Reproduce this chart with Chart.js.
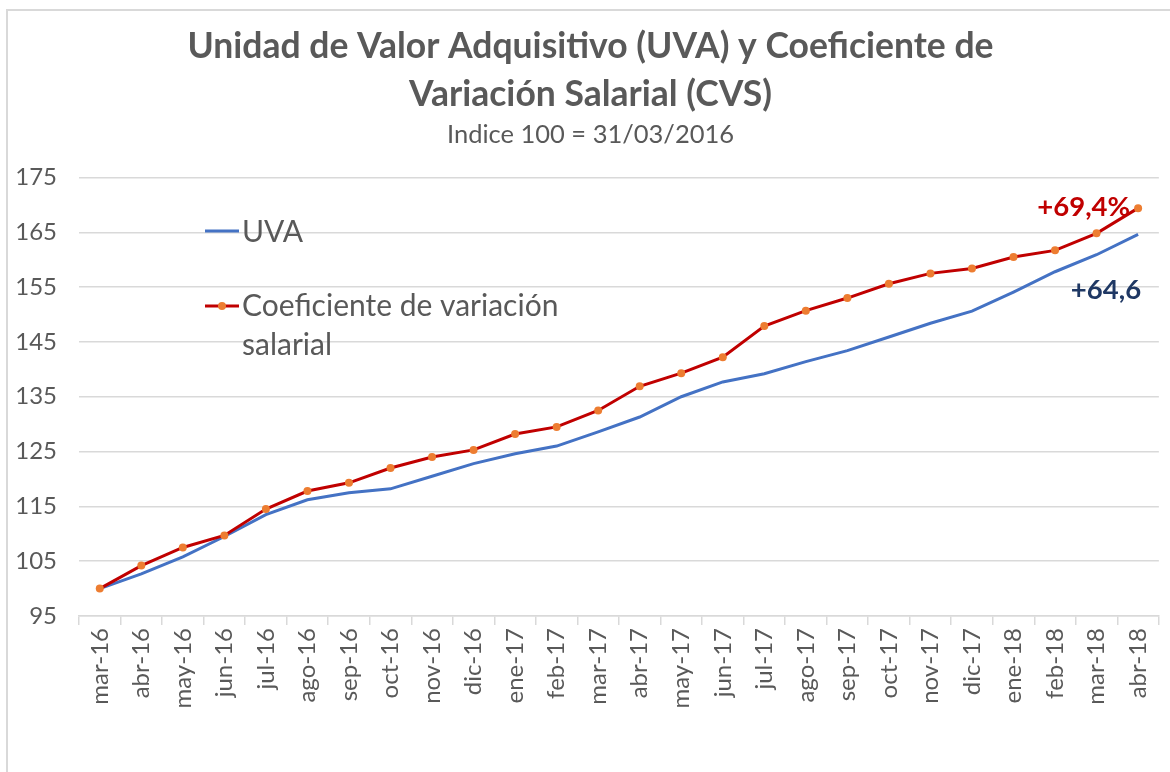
<!DOCTYPE html>
<html>
<head>
<meta charset="utf-8">
<script src="https://cdn.jsdelivr.net/npm/chart.js@4/dist/chart.umd.min.js"></script>
<style>
  html, body { margin: 0; padding: 0; background: #ffffff; }
  #wrap { position: relative; width: 1170px; height: 772px; }
</style>
</head>
<body>
<div id="wrap"><canvas id="c" width="1170" height="772"></canvas></div>
<script>
const categories = ["mar-16","abr-16","may-16","jun-16","jul-16","ago-16","sep-16","oct-16","nov-16","dic-16",
  "ene-17","feb-17","mar-17","abr-17","may-17","jun-17","jul-17","ago-17","sep-17","oct-17","nov-17","dic-17",
  "ene-18","feb-18","mar-18","abr-18"];
const uvaValues = [100, 102.7, 105.8, 109.5, 113.5, 116.2, 117.5, 118.2, 120.5, 122.8, 124.6, 126.0, 128.6,
  131.3, 135.0, 137.7, 139.2, 141.4, 143.4, 145.9, 148.4, 150.6, 154.1, 157.8, 160.9, 164.6];
const cvsValues = [100, 104.2, 107.5, 109.7, 114.5, 117.8, 119.3, 122.0, 124.0, 125.3, 128.2, 129.5, 132.5,
  136.9, 139.3, 142.2, 147.9, 150.7, 153.0, 155.6, 157.5, 158.4, 160.5, 161.7, 164.8, 169.4];
const yTicks = [95, 105, 115, 125, 135, 145, 155, 165, 175];
const titleLines = ["Unidad de Valor Adquisitivo (UVA) y Coeficiente de", "Variación Salarial (CVS)"];
const subtitleText = "Indice 100 = 31/03/2016";
const seriesNames = ["UVA", "Coeficiente de variación", "salarial"];
const endLabels = ["+64,6", "+69,4%"];

const FONT = "Lato, 'Open Sans', sans-serif";
const GRAY = "#595959";
const BLUE = "#4472C4";
const RED = "#C00000";
const ORANGE = "#ED7D31";
const NAVY = "#1F3864";

const overlayPlugin = {
  id: 'overlay',
  beforeDraw(chart) {
    const ctx = chart.ctx;
    ctx.save();
    ctx.fillStyle = '#ffffff';
    ctx.fillRect(0, 0, chart.width, chart.height);
    ctx.strokeStyle = '#d9d9d9';
    ctx.lineWidth = 2;
    ctx.beginPath();
    ctx.moveTo(7, chart.height + 5);
    ctx.lineTo(7, 10);
    ctx.lineTo(chart.width + 5, 10);
    ctx.stroke();
    ctx.restore();
  },
  afterDraw(chart) {
    const ctx = chart.ctx;
    const ca = chart.chartArea;
    ctx.save();
    // legend
    const lx0 = ca.left + 126, lx1 = ca.left + 160, tx = ca.left + 163;
    const y1 = 231, y2 = 306, y3 = 345;
    ctx.lineWidth = 3;
    ctx.strokeStyle = BLUE;
    ctx.beginPath(); ctx.moveTo(lx0, y1); ctx.lineTo(lx1, y1); ctx.stroke();
    ctx.strokeStyle = RED;
    ctx.beginPath(); ctx.moveTo(lx0, y2); ctx.lineTo(lx1, y2); ctx.stroke();
    ctx.fillStyle = ORANGE;
    ctx.beginPath(); ctx.arc((lx0 + lx1) / 2, y2, 4, 0, Math.PI * 2); ctx.fill();
    ctx.fillStyle = GRAY;
    ctx.font = "30px " + FONT;
    ctx.textAlign = 'left';
    ctx.textBaseline = 'middle';
    ctx.fillText(seriesNames[0], tx, y1 + 1);
    ctx.fillText(seriesNames[1], tx, y2);
    ctx.fillText(seriesNames[2], tx, y3);
    // end labels
    const mU = chart.getDatasetMeta(0).data;
    const mC = chart.getDatasetMeta(1).data;
    const pU = mU[mU.length - 1], pC = mC[mC.length - 1];
    ctx.font = "bold 27.5px " + FONT;
    ctx.textAlign = 'right';
    ctx.fillStyle = RED;
    ctx.fillText(endLabels[1], pC.x - 8, pC.y - 1);
    ctx.fillStyle = NAVY;
    ctx.fillText(endLabels[0], pU.x + 3, pU.y + 56);
    ctx.restore();
  }
};

new Chart(document.getElementById('c'), {
  type: 'line',
  data: {
    labels: categories,
    datasets: [
      {
        label: seriesNames[0],
        data: uvaValues,
        borderColor: BLUE,
        backgroundColor: BLUE,
        borderWidth: 3,
        pointRadius: 0,
        pointHoverRadius: 0,
        tension: 0,
        order: 1
      },
      {
        label: seriesNames[1] + " " + seriesNames[2],
        data: cvsValues,
        borderColor: RED,
        backgroundColor: ORANGE,
        borderWidth: 3,
        pointRadius: 4,
        pointBackgroundColor: ORANGE,
        pointBorderColor: ORANGE,
        pointBorderWidth: 0,
        tension: 0,
        order: 0
      }
    ]
  },
  options: {
    responsive: false,
    devicePixelRatio: 1,
    animation: false,
    layout: { padding: { left: 16, right: 5, top: 0, bottom: 0 } },
    plugins: {
      legend: { display: false },
      tooltip: { enabled: false },
      title: {
        display: true,
        text: titleLines,
        color: GRAY,
        font: { family: FONT, size: 35.5, weight: 'bold', lineHeight: 1.35 },
        padding: { top: 23, bottom: 0 }
      },
      subtitle: {
        display: true,
        text: subtitleText,
        color: GRAY,
        font: { family: FONT, size: 25.5, lineHeight: 1.2 },
        padding: { top: 1, bottom: 27 }
      }
    },
    scales: {
      x: {
        type: 'category',
        offset: true,
        grid: { offset: true, drawOnChartArea: false, drawTicks: true, tickLength: 9, color: '#d9d9d9', lineWidth: 1.5 },
        border: { display: true, color: '#d9d9d9', width: 1.5 },
        ticks: { minRotation: 90, maxRotation: 90, autoSkip: false, color: GRAY, font: { family: FONT, size: 24 }, padding: 3 },
        afterFit(scale) { scale.height = 156; }
      },
      y: {
        min: yTicks[0],
        max: yTicks[yTicks.length - 1],
        afterBuildTicks(scale) { scale.ticks = yTicks.map(v => ({ value: v })); },
        grid: { color: '#d9d9d9', lineWidth: 1.5, drawTicks: false },
        border: { display: false },
        ticks: { color: GRAY, font: { family: FONT, size: 24 }, padding: 22 },
        afterFit(scale) { scale.width = 63; }
      }
    }
  },
  plugins: [overlayPlugin]
});
</script>
</body>
</html>
